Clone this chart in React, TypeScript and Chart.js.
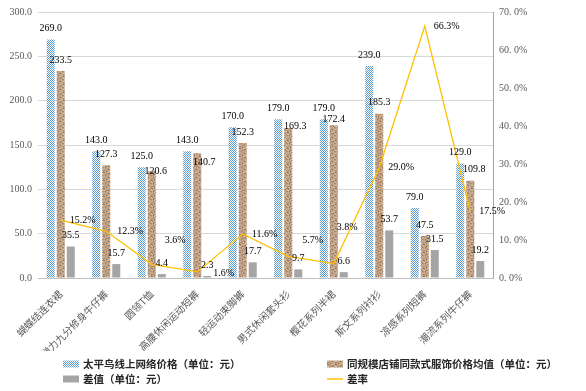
import React, { useEffect, useRef } from "react";
import { Chart, registerables } from "chart.js";

Chart.register(...registerables);

const categories = [
  "蝴蝶结连衣裙",
  "弹力九分修身牛仔裤",
  "圆领T恤",
  "高腰休闲运动短裤",
  "轻运动束脚裤",
  "男式休闲套头衫",
  "樱花系列半裙",
  "斯文系列衬衫",
  "凉感系列短裤",
  "潮流系列牛仔裤",
];
const onlinePrice = [269.0, 143.0, 125.0, 143.0, 170.0, 179.0, 179.0, 239.0, 79.0, 129.0];
const avgPrice = [233.5, 127.3, 120.6, 140.7, 152.3, 169.3, 172.4, 185.3, 47.5, 109.8];
const diffValue = [35.5, 15.7, 4.4, 2.3, 17.7, 9.7, 6.6, 53.7, 31.5, 19.2];
const diffRate = [15.2, 12.3, 3.6, 1.6, 11.6, 5.7, 3.8, 29.0, 66.3, 17.5];

const seriesNames = [
  "太平鸟线上网络价格（单位：元）",
  "同规模店铺同款式服饰价格均值（单位：元）",
  "差值（单位：元）",
  "差率",
];

// manual nudges of a few data labels (dx, dy in px), as placed in the original
const avgLabelNudge = [[0, 0], [0, 0], [4, 11], [7, 20], [0, 0], [7, 9], [0, 5], [0, 0], [0, 0], [4, 0]];
const rateLabelNudge = [[0, 0], [2, 0], [4, -24], [7, 1], [0, 0], [5, -16], [-6, -36], [0, 0], [0, 0], [0, 0]];

function makeChecker(): CanvasPattern | string {
  const c = document.createElement("canvas");
  c.width = 2;
  c.height = 2;
  const g = c.getContext("2d");
  if (!g) return "#5b9bd5";
  g.fillStyle = "#ffffff";
  g.fillRect(0, 0, 2, 2);
  g.fillStyle = "#5b9bd5";
  g.fillRect(0, 0, 1, 1);
  g.fillRect(1, 1, 1, 1);
  return g.createPattern(c, "repeat") || "#5b9bd5";
}

const sandMap = [
  "01230210",
  "20103122",
  "13021003",
  "02310221",
  "30122013",
  "12003120",
  "21310302",
  "03021231",
];
const sandColors = ["#c2a387", "#b08f73", "#d3bca4", "#9c7d63"];

function makeSand(): CanvasPattern | string {
  const c = document.createElement("canvas");
  c.width = 8;
  c.height = 8;
  const g = c.getContext("2d");
  if (!g) return "#b8977a";
  for (let y = 0; y < 8; y++) {
    for (let x = 0; x < 8; x++) {
      g.fillStyle = sandColors[Number(sandMap[y][x])];
      g.fillRect(x, y, 1, 1);
    }
  }
  return g.createPattern(c, "repeat") || "#b8977a";
}

export default function App() {
  const ref = useRef<HTMLCanvasElement | null>(null);

  useEffect(() => {
    if (!ref.current) return;
    const checker = makeChecker();
    const sand = makeSand();
    const gray = "#a5a5a5";
    const yellow = "#ffc000";
    const labelFont = "10px 'Liberation Serif'";

    const labelPlugin = {
      id: "valueLabels",
      afterDatasetsDraw(chart: any) {
        const ctx = chart.ctx;
        ctx.save();
        ctx.font = labelFont;
        ctx.fillStyle = "#000000";
        chart.data.datasets.forEach((ds: any, di: number) => {
          const meta = chart.getDatasetMeta(di);
          meta.data.forEach((el: any, i: number) => {
            const v = ds.data[i];
            if (ds.type === "line") {
              const [dx, dy] = rateLabelNudge[i];
              ctx.textAlign = "left";
              ctx.textBaseline = "middle";
              ctx.fillText(v.toFixed(1) + "%", el.x + 9 + dx, el.y + dy);
            } else {
              const [dx, dy] = di === 1 ? avgLabelNudge[i] : [0, 0];
              ctx.textAlign = "center";
              ctx.textBaseline = "bottom";
              ctx.fillText(v.toFixed(1), el.x + dx, el.y - 6 + dy);
            }
          });
        });
        ctx.restore();
      },
    };

    const legendPlugin = {
      id: "customLegend",
      afterDraw(chart: any) {
        const ctx = chart.ctx;
        const h = chart.height;
        const cols = [63, 327];
        const rows = [h - 27, h - 12];
        const swW = 16;
        ctx.save();
        ctx.font = "bold 10.5px 'Noto Sans CJK SC'";
        ctx.textAlign = "left";
        ctx.textBaseline = "middle";
        const items = [
          { x: cols[0], y: rows[0], kind: "checker" },
          { x: cols[1], y: rows[0], kind: "sand" },
          { x: cols[0], y: rows[1], kind: "gray" },
          { x: cols[1], y: rows[1], kind: "line" },
        ];
        items.forEach((it, i) => {
          if (it.kind === "line") {
            ctx.strokeStyle = yellow;
            ctx.lineWidth = 1.5;
            ctx.beginPath();
            ctx.moveTo(it.x, it.y);
            ctx.lineTo(it.x + swW, it.y);
            ctx.stroke();
          } else {
            ctx.fillStyle = it.kind === "checker" ? checker : it.kind === "sand" ? sand : gray;
            ctx.fillRect(it.x, it.y - 3.5, swW, 7);
          }
          ctx.fillStyle = "#262626";
          ctx.fillText(seriesNames[i], it.x + swW + 4, it.y);
        });
        ctx.restore();
      },
    };

    const chart = new Chart(ref.current, {
      type: "bar",
      data: {
        labels: categories,
        datasets: [
          {
            type: "bar",
            label: seriesNames[0],
            data: onlinePrice,
            backgroundColor: checker as any,
            yAxisID: "y",
            order: 1,
            categoryPercentage: 0.66,
            barPercentage: 0.8,
          },
          {
            type: "bar",
            label: seriesNames[1],
            data: avgPrice,
            backgroundColor: sand as any,
            yAxisID: "y",
            order: 1,
            categoryPercentage: 0.66,
            barPercentage: 0.8,
          },
          {
            type: "bar",
            label: seriesNames[2],
            data: diffValue,
            backgroundColor: gray,
            yAxisID: "y",
            order: 1,
            categoryPercentage: 0.66,
            barPercentage: 0.8,
          },
          {
            type: "line",
            label: seriesNames[3],
            data: diffRate,
            borderColor: yellow,
            backgroundColor: yellow,
            borderWidth: 1.3,
            pointRadius: 0,
            tension: 0,
            yAxisID: "y1",
            order: 0,
          } as any,
        ],
      },
      options: {
        animation: false,
        responsive: false,
        maintainAspectRatio: false,
        layout: { padding: { top: 11, right: 55, bottom: 40, left: 0 } },
        plugins: {
          legend: { display: false },
          tooltip: { enabled: false },
        },
        scales: {
          x: {
            grid: { display: false },
            border: { display: true, color: "#bfbfbf" },
            ticks: {
              minRotation: 45,
              maxRotation: 45,
              autoSkip: false,
              padding: 2,
              color: "#595959",
              font: { family: "'Noto Sans CJK SC'", size: 10 },
            },
            afterFit: (s: any) => {
              s.height = 73;
            },
          },
          y: {
            position: "left",
            min: 0,
            max: 300,
            ticks: {
              stepSize: 50,
              padding: 6,
              color: "#595959",
              font: { family: "'Liberation Serif'", size: 10 },
              callback: (v: any) => Number(v).toFixed(1),
            },
            grid: { color: "#d9d9d9", drawTicks: false },
            border: { display: false },
            afterFit: (s: any) => {
              s.width = 38;
            },
          },
          y1: {
            position: "right",
            min: 0,
            max: 70,
            ticks: {
              stepSize: 10,
              padding: 6,
              color: "#595959",
              font: { family: "'Liberation Serif'", size: 10 },
              callback: (v: any) => Number(v).toFixed(1).replace(".", ". ") + "%",
            },
            grid: { display: false, drawTicks: false },
            border: { display: true, color: "#a6a6a6" },
            afterFit: (s: any) => {
              s.width = 38;
            },
          },
        },
      } as any,
      plugins: [labelPlugin, legendPlugin],
    });
    return () => chart.destroy();
  }, []);

  return (
    <div style={{ position: "fixed", left: 0, top: 0, width: 586, height: 391, background: "#ffffff" }}>
      <canvas ref={ref} width={586} height={391} style={{ width: 586, height: 391 }} />
    </div>
  );
}
